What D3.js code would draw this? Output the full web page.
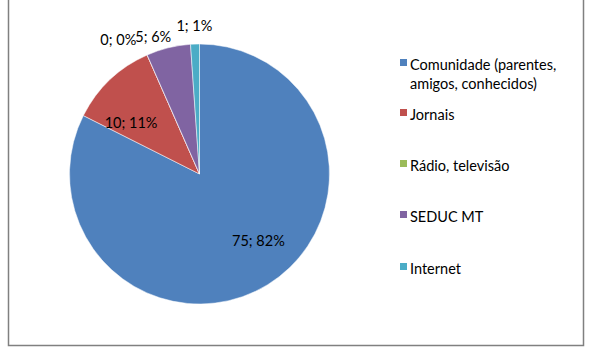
<!DOCTYPE html>
<html><head><meta charset="utf-8">
<script src="https://cdn.jsdelivr.net/npm/d3@7"></script>
<style>body{margin:0;background:#fff}svg{display:block}text{font-family:Lato,"Open Sans",sans-serif}</style>
</head><body><svg id="c" width="592" height="355"></svg>
<script>
const categories = ["Comunidade (parentes, amigos, conhecidos)", "Jornais", "Rádio, televisão", "SEDUC MT", "Internet"];
const legendLines = [["Comunidade (parentes,", "amigos, conhecidos)"], ["Jornais"], ["Rádio, televisão"], ["SEDUC MT"], ["Internet"]];
const values = [75, 10, 0, 5, 1];
const percents = ["82%", "11%", "0%", "6%", "1%"];
const colors = ["#4F81BD", "#C0504D", "#9BBB59", "#8064A2", "#4BACC6"];

const svg = d3.select("#c");
svg.append("path").attr("d", "M8.5,0 V345.5 H583.5 V0").attr("fill", "none").attr("stroke", "#808080").attr("stroke-width", 1.5);

const cx = 199.5, cy = 174, r = 130;
const pie = d3.pie().sort(null).value(d => d)(values);
const arc = d3.arc().innerRadius(0).outerRadius(r);
const g = svg.append("g").attr("transform", `translate(${cx},${cy})`);
g.selectAll("path").data(pie).enter().append("path")
  .attr("d", arc).attr("fill", (d, i) => colors[i]).attr("stroke", "#fff").attr("stroke-width", 0.5);

const labelR = [0.6, 0.82, 1.17, 1.07, 1.14];
const offs = [[18, 0], [5, 26], [-20, 5], [-13, -2], [0, 0]];
g.selectAll("text.lbl").data(pie).enter().append("text").attr("class", "lbl")
  .attr("transform", (d, i) => { const a = d3.arc().innerRadius(r * labelR[i]).outerRadius(r * labelR[i]); const p = a.centroid(d); return `translate(${p[0] + offs[i][0]},${p[1] + offs[i][1]})`; })
  .attr("text-anchor", "middle").attr("dominant-baseline", "central")
  .attr("font-size", 14.5).attr("fill", "#000")
  .text((d, i) => `${values[i]}; ${percents[i]}`);

const legendY = [64, 114, 165, 216, 268];
const lg = svg.append("g");
categories.forEach((c, i) => {
  lg.append("rect").attr("x", 400).attr("y", legendY[i] - 5).attr("width", 7).attr("height", 7).attr("fill", colors[i]);
  legendLines[i].forEach((ln, j) => {
    lg.append("text").attr("x", 410).attr("y", legendY[i] + j * 19).attr("dominant-baseline", "central")
      .attr("font-size", 14.5).attr("fill", "#000").text(ln);
  });
});
</script></body></html>
